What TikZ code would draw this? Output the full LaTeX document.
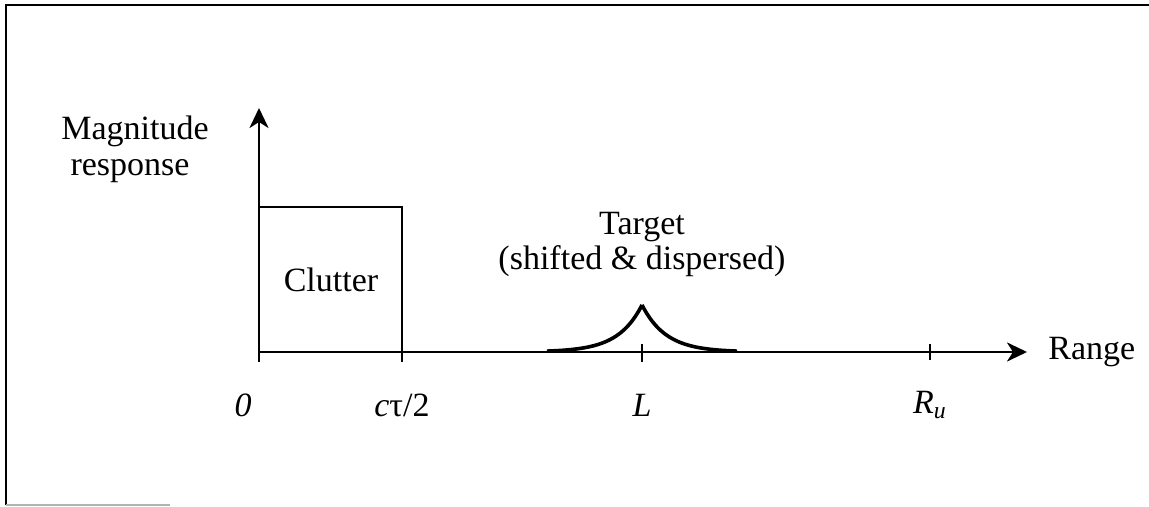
\documentclass[tikz,border=0pt]{standalone}
\usepackage{fontspec}
\setmainfont{Liberation Serif}
\usetikzlibrary{arrows.meta}

\begin{document}
\begin{tikzpicture}[
    x=0.5pt, y=-0.5pt,
    lbl/.style={font=\fontsize{17}{20}\selectfont, inner sep=0pt},
    axis/.style={-{Stealth[length=10pt, width=9.5pt, inset=3pt]}, line width=1.4pt},
    tick/.style={line width=1.2pt}
]
\useasboundingbox (0,0) rectangle (1149,507);

% Cadre
\draw[line width=1pt] (6,505) -- (6,5) -- (1149,5);
\draw[gray!60, line width=1pt] (6,505) -- (170,505);

% Axes
\coordinate (origin) at (259,352);
\coordinate (ytop) at (259,108);
\coordinate (xend) at (1027,352);
\draw[axis] (origin) -- (ytop);
\draw[axis] (origin) -- (xend);

% Clutter
\draw[line width=1.4pt] (259,362) -- (259,207) -- (402,207) -- (402,362);
\node[lbl] (clutter) at (331,280) {Clutter};

% Target
\draw[line width=1.8pt, domain=0:95, samples=60]
    plot ({642+\x}, {352-47*exp(-\x/24)})
    plot ({642-\x}, {352-47*exp(-\x/24)});
\draw[tick] (642,344) -- (642,362);
\draw[tick] (930,344) -- (930,360);
\node[lbl] (target) at (642,227) {Target};
\node[lbl] (disp) at (642,261) {(shifted \& dispersed)};

% Etiquettes
\node[lbl, anchor=base east] (mag) at (209,140) {Magnitude};
\node[lbl, anchor=base] (resp) at (130,176) {response};
\node[lbl, anchor=west] (range) at (1048,352) {Range};
\node[lbl] (zero) at (243,405) {\itshape 0};
\node[lbl] (ctau) at (402,405) {\textit{c}τ/2};
\node[lbl] (ell) at (642,405) {\itshape L};
\node[lbl] (ru) at (930,405) {\textit{R\textsubscript{u}}};

\end{tikzpicture}
\end{document}
